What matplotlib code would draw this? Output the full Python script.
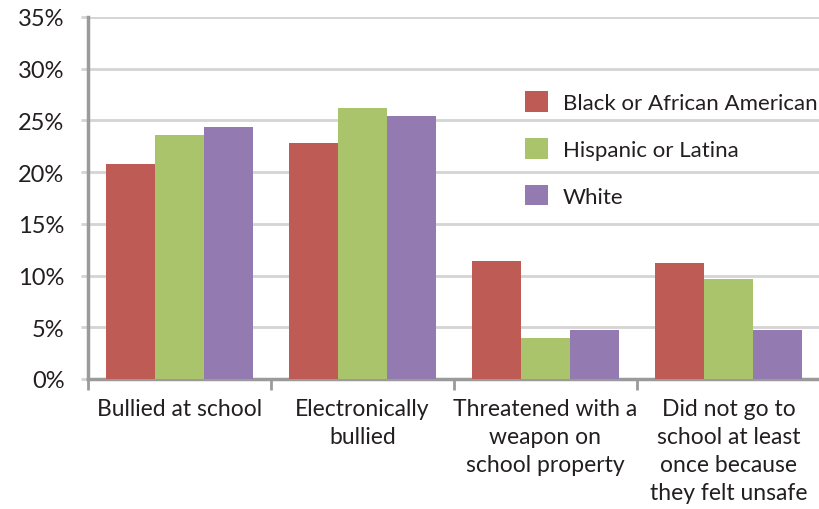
# Grouped bar chart: bullying and safety by race/ethnicity

import numpy
import matplotlib
matplotlib.use('Agg')
import matplotlib.pyplot as plt
from matplotlib.ticker import FuncFormatter

categories = ['Bullied at school', 'Electronically\nbullied',
              'Threatened with a\nweapon on\nschool property',
              'Did not go to\nschool at least\nonce because\nthey felt unsafe']
groups = ['Black or African American', 'Hispanic or Latina', 'White']
black = [20.8, 22.8, 11.4, 11.2]
hispanic = [23.6, 26.2, 4.0, 9.7]
white = [24.4, 25.4, 4.7, 4.7]
colors = ['#BE5B55', '#AAC46C', '#937AB0']

plt.rcParams['font.family'] = ['Lato', 'DejaVu Sans']

fig = plt.figure(figsize=(8.2, 5.1), dpi=100)
ax = fig.add_axes([88/820, 130/510, 732/820, 362/510])

x = numpy.arange(len(categories))
w = 0.267
for i, (vals, name) in enumerate(zip([black, hispanic, white], groups)):
    ax.bar(x + (i-1)*w, vals, w, color=colors[i], label=name, zorder=3)

ax.set_xlim(-0.5, len(categories)-0.5)
ax.set_ylim(0, 35)
ax.set_yticks(numpy.arange(0, 36, 5))
ax.yaxis.set_major_formatter(FuncFormatter(lambda v, p: '{:d}%'.format(int(v))))
ax.grid(axis='y', color='#D4D4D4', linewidth=2, zorder=0)

# category boundaries as ticks
ax.set_xticks(numpy.arange(-0.5, len(categories), 1.0))
ax.set_xticklabels([])
ax.set_xticks(x, minor=True)
ax.set_xticklabels(categories, minor=True, fontsize=16.5, color='#231F20', linespacing=1.41)
ax.tick_params(axis='x', which='major', length=8, width=2, color='#9A9A9A', direction='out')
ax.tick_params(axis='x', which='minor', length=0, pad=14)
ax.tick_params(axis='y', length=5, width=2, color='#D4D4D4', labelsize=17, labelcolor='#231F20', pad=12)

for s in ['top', 'right']:
    ax.spines[s].set_visible(False)
for s in ['left', 'bottom']:
    ax.spines[s].set_color('#9A9A9A')
    ax.spines[s].set_linewidth(2.5)

ax.legend(loc='upper left', bbox_to_anchor=(0.597, 0.795), frameon=False, fontsize=16,
          handlelength=1.05, handleheight=1.05, handletextpad=0.65, labelspacing=1.12,
          borderpad=0, borderaxespad=0, labelcolor='#231F20')

fig.savefig('out.png', dpi=100)
